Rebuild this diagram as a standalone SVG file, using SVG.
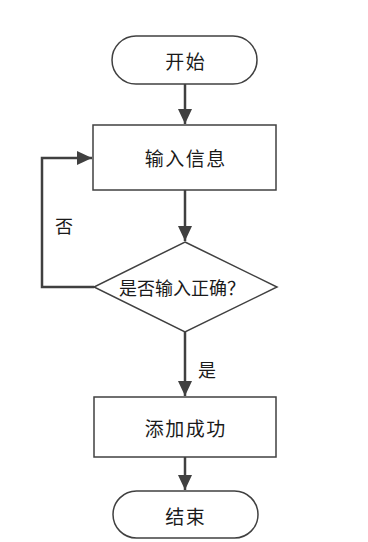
<svg xmlns="http://www.w3.org/2000/svg" width="368" height="542" viewBox="0 0 368 542">
<style>
.shape{fill:#fff;stroke:#404040;stroke-width:1.5}
.edge{fill:none;stroke:#404040;stroke-width:2.5}
text{font-family:"Noto Sans CJK SC","Noto Sans",sans-serif;font-size:19px;fill:#1a1a1a;text-anchor:middle;dominant-baseline:central}
.wide{letter-spacing:1.5px}
.mid{font-size:18px}
</style>
<defs>
<marker id="arr" markerUnits="userSpaceOnUse" markerWidth="16" markerHeight="16" refX="15" refY="7" orient="auto">
<path d="M0,0 L15,7 L0,14 Z" fill="#404040"/>
</marker>
</defs>
<rect width="368" height="542" fill="#fff"/>
<g id="connectors">
<line class="edge" x1="185" y1="84" x2="185" y2="124" marker-end="url(#arr)"/>
<line class="edge" x1="185" y1="190" x2="185" y2="241" marker-end="url(#arr)"/>
<polyline class="edge" points="94,287 42,287 42,158 92,158" marker-end="url(#arr)"/>
<line class="edge" x1="185" y1="332" x2="185" y2="396" marker-end="url(#arr)"/>
<line class="edge" x1="185" y1="457" x2="185" y2="490" marker-end="url(#arr)"/>
<text class="mid" x="64" y="225">否</text>
<text class="mid" x="207" y="369">是</text>
</g>
<g id="start">
<rect class="shape" x="112" y="36" width="145" height="48" rx="24" ry="24"/>
<text class="wide" x="185.75" y="60">开始</text>
</g>
<g id="input">
<rect class="shape" x="93" y="125" width="183" height="65"/>
<text class="wide" x="185.75" y="157">输入信息</text>
</g>
<g id="decision">
<polygon class="shape" points="185,242 277,287 185,332 94,287"/>
<text class="mid" x="182" y="287">是否输入正确？</text>
</g>
<g id="add">
<rect class="shape" x="94" y="397" width="182" height="60"/>
<text class="wide" x="185.75" y="427">添加成功</text>
</g>
<g id="end">
<rect class="shape" x="113" y="491" width="145" height="47" rx="23.5" ry="23.5"/>
<text class="wide" x="185.75" y="515">结束</text>
</g>
</svg>
